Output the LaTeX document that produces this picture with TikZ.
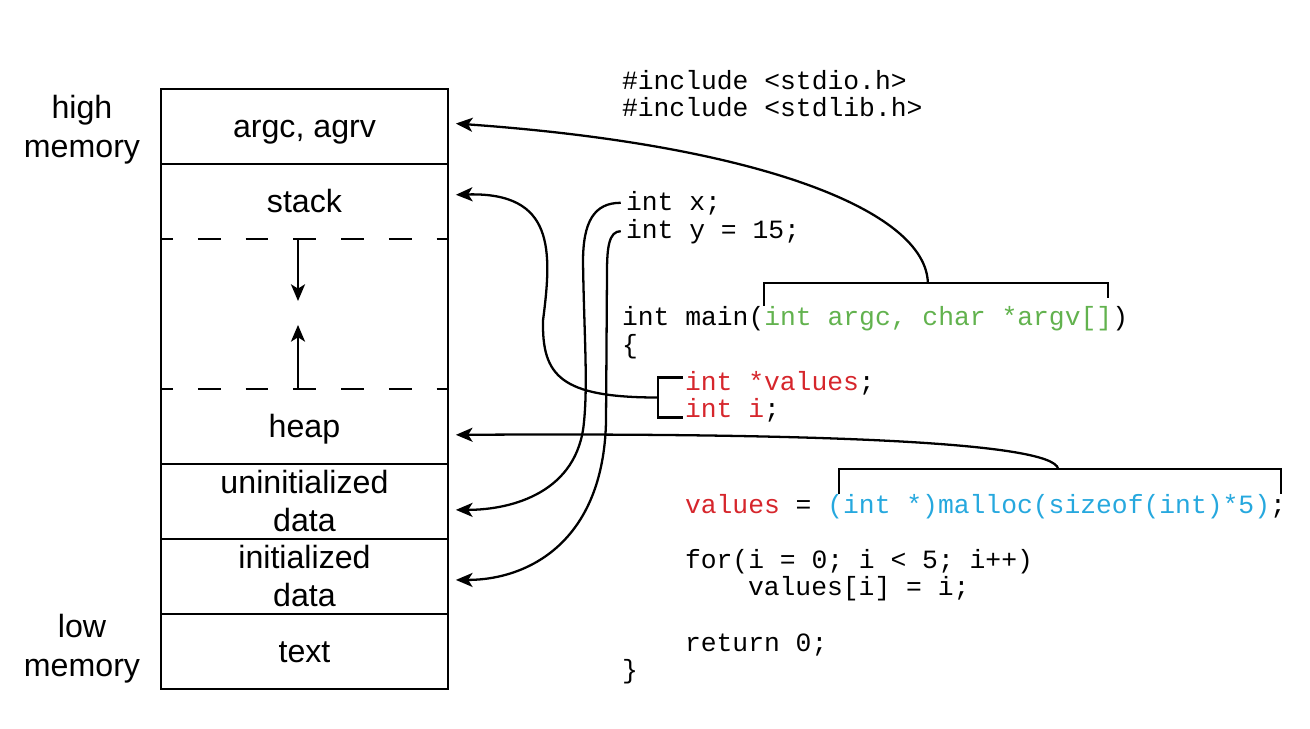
\documentclass[tikz,border=0pt]{standalone}
\usepackage{fontspec}
\setsansfont{Liberation Sans}
\setmonofont{Liberation Mono}
\usetikzlibrary{
    arrows.meta,
    calc,
    positioning
}
\definecolor{argsgreen}{RGB}{98,178,78}
\definecolor{localred}{RGB}{214,38,44}
\definecolor{heapcyan}{RGB}{38,168,222}
\tikzset{
    every picture/.style = {
        > = {Stealth[length = 9.5pt, width = 8pt, inset = 2.5pt]},
        line width = 1.3pt
    },
    cell/.style = {
        inner sep = 0pt,
        outer sep = 0pt,
        minimum width = 5.74cm,
        minimum height = 1.5cm,
        align = center,
        font = \sffamily\fontsize{18.3}{21.6}\selectfont
    },
    oneline/.style = {
        text height = 13.2pt,
        text depth = 1pt
    },
    side/.style = {
        inner sep = 0pt,
        align = center,
        font = \sffamily\fontsize{18.3}{22.2}\selectfont
    },
    code/.style = {
        inner sep = 0pt,
        outer sep = 0pt,
        anchor = base west,
        font = \ttfamily\fontsize{15}{18}\selectfont
    },
    ptr/.style = {
        ->,
        shorten > = 4.5pt
    },
    divider/.style = {
        dash pattern = on 13pt off 14.2pt,
        dash phase = 6.3pt
    }
}

\begin{document}
\begin{tikzpicture}[x = 0.02cm, y = -0.02cm]
    \useasboundingbox (0,0) rectangle (1310,728);
    % memory layout
    \node[cell, oneline] (argc) at (304.5,126.5) {argc, agrv};
    \node[cell, oneline, below = 0pt of argc] (stack) {stack};
    \node[cell, minimum height = 3cm, below = 0pt of stack] (gap) {};
    \node[cell, oneline, below = 0pt of gap] (heap) {heap};
    \node[cell, below = 0pt of heap] (uninit) {uninitialized\\data};
    \node[cell, below = 0pt of uninit] (init) {initialized\\data};
    \node[cell, oneline, below = 0pt of init] (text) {text};
    \draw (argc.north west) rectangle (text.south east);
    \draw (argc.south west) -- (argc.south east);
    \draw (heap.south west) -- (heap.south east);
    \draw (uninit.south west) -- (uninit.south east);
    \draw (init.south west) -- (init.south east);
    \draw[divider] (gap.north west) -- (gap.north east);
    \draw[divider] (gap.south west) -- (gap.south east);
    \draw[->] ([xshift = -3.7pt]gap.north) -- ++(0,62);
    \draw[->] ([xshift = -3.7pt]gap.south) -- ++(0,-64);
    \node[side] (high) at (82,130) {high\\memory};
    \node[side] (low) at (82,649) {low\\memory};
    % program
    \node[code] (inclA) at (622,89) {\#include <stdio.h>};
    \node[code] (inclB) at (622,116) {\#include <stdlib.h>};
    \node[code] (varx) at (626,210) {int x;};
    \node[code] (vary) at (626,238) {int y = 15;};
    \node[code] (mainhead) at (622,325) {int main(};
    \node[code, text = argsgreen] (mainargs) at (mainhead.base east) {int argc, char *argv[]};
    \node[code] (maintail) at (mainargs.base east) {)};
    \node[code] (lbrace) at (622,353) {\{};
    \node[code] (decvals) at (685,390) {{\color{localred}int *values};};
    \node[code] (deci) at (685,417) {{\color{localred}int i};};
    \node[code, text = localred] (valname) at (685,513) {values};
    \node[code] (eqsign) at (valname.base east) {\ =\ \mbox{}};
    \node[code, text = heapcyan] (mcall) at (eqsign.base east) {(int *)malloc(sizeof(int)*5)};
    \node[code] (msemi) at (mcall.base east) {;};
    \node[code] (forhead) at (685,568) {for(i = 0; i < 5; i++)};
    \node[code] (forbody) at (748,595) {values[i] = i;};
    \node[code] (retline) at (685,651) {return 0;};
    \node[code] (rbrace) at (622,678) {\}};
    % brackets
    \draw (mainargs.north west) -- ++(0,-23) coordinate (abL) -| ($(mainargs.north east)+(-4,-8)$);
    \coordinate (abR) at (abL -| mainargs.north east);
    \coordinate (argtop) at ($(abL)!0.47!(abR)$);
    \coordinate (declbr) at ($(decvals.base west)!0.5!(deci.base west)+(-27,-6)$);
    \draw ($(declbr)+(25,-20)$) -| ($(declbr)+(0,20)$) -- ++(25,0);
    \coordinate (mR) at (mcall.north -| msemi.east);
    \draw ($(mcall.north west)+(12,0)$) -- ++(0,-25) coordinate (mbL) -| ($(mR)+(-5,0)$);
    \coordinate (mbR) at (mbL -| msemi.east);
    \coordinate (mtop) at ($(mbL)!0.49!(mbR)$);
    % pointers
    \draw[ptr] (argtop) .. controls +(-2,-72) and +(312,22) .. ([yshift = 2pt]argc.east);
    \draw[ptr] (declbr) .. controls +(-98,0) and +(-1,55) .. ++(-115,-77)
        .. controls +(9,-70) and +(107,-3) .. ([yshift = 3.7pt]stack.east);
    \draw[ptr, shorten < = 3pt] (varx.west) .. controls +(-32,0) and +(0,-40) .. ++(-43,59)
        .. controls +(1,70) and +(4,-40) .. ++(1,160)
        .. controls +(-6,70) and +(65,0) .. ([yshift = -4.8pt]uninit.east);
    \draw[ptr, shorten < = 3pt] (vary.west) .. controls +(-17,0) and +(0,-25) .. ++(-19,41)
        -- ++(-1,150)
        .. controls +(-3,120) and +(80,0) .. ([yshift = -2pt]init.east);
    \draw[ptr] (mtop) .. controls +(-5,-28) and +(350,-2) .. ([yshift = -4.8pt]heap.east);
\end{tikzpicture}
\end{document}
